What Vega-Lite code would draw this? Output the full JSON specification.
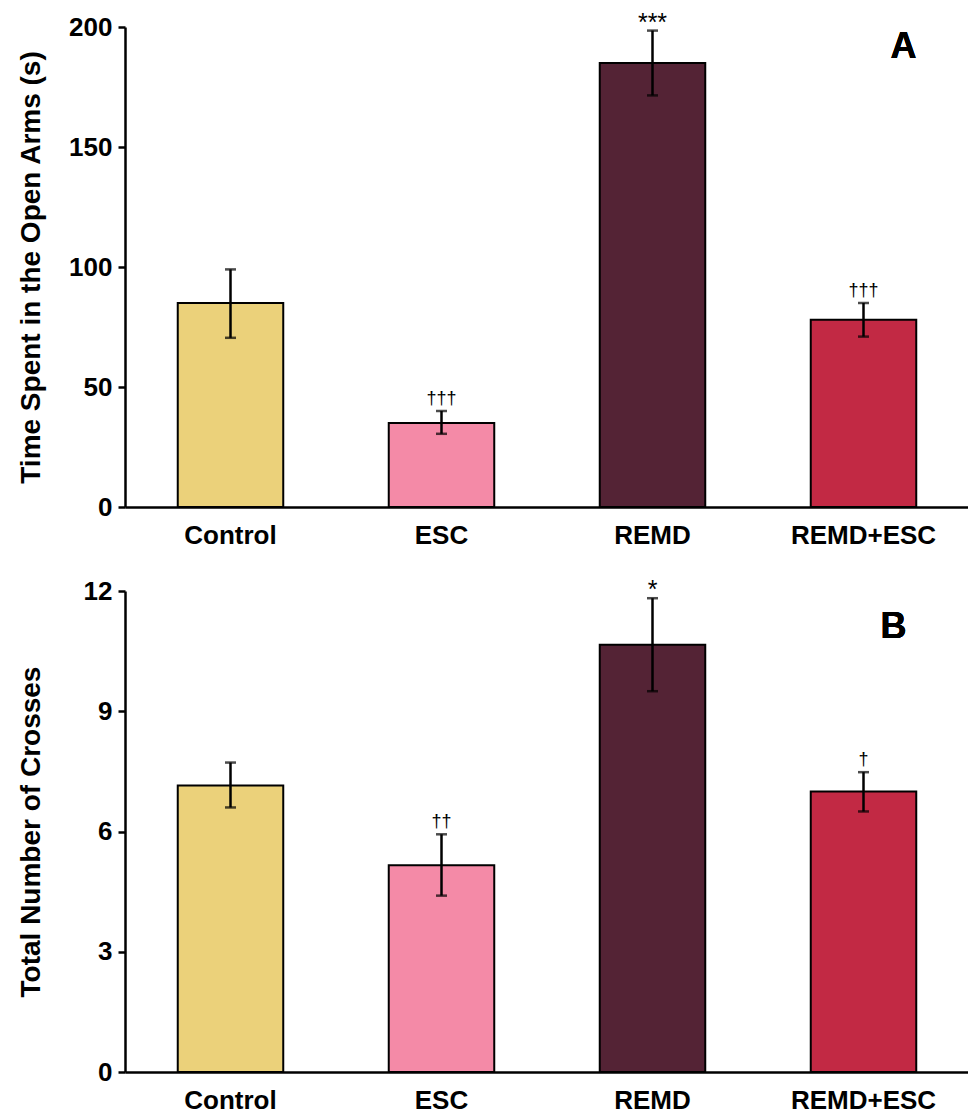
{
  "$schema": "https://vega.github.io/schema/vega-lite/v6.json",
  "background": "white",
  "padding": {"left": 16, "top": 10, "right": 0, "bottom": 0},
  "spacing": 84,
  "bounds": "flush",
  "datasets": {
    "a": [
      {"group": "Control", "mean": 85, "lo": 70.5, "hi": 99, "sig": ""},
      {"group": "ESC", "mean": 35, "lo": 30.5, "hi": 40, "sig": "†††"},
      {"group": "REMD", "mean": 185, "lo": 171.5, "hi": 198.5, "sig": "***"},
      {"group": "REMD+ESC", "mean": 78, "lo": 71, "hi": 85, "sig": "†††"}
    ],
    "b": [
      {"group": "Control", "mean": 7.15, "lo": 6.6, "hi": 7.72, "sig": ""},
      {"group": "ESC", "mean": 5.16, "lo": 4.4, "hi": 5.93, "sig": "††"},
      {"group": "REMD", "mean": 10.66, "lo": 9.5, "hi": 11.82, "sig": "*"},
      {"group": "REMD+ESC", "mean": 7.0, "lo": 6.5, "hi": 7.48, "sig": "†"}
    ]
  },
  "config": {
    "view": {"stroke": null},
    "font": "Liberation Sans",
    "axis": {
      "domainColor": "black",
      "domainWidth": 2.5,
      "tickColor": "black",
      "tickWidth": 2.5,
      "labelFont": "Liberation Sans",
      "labelFontWeight": "bold",
      "labelColor": "black",
      "labelFontSize": 26,
      "titleFont": "Liberation Sans",
      "titleFontWeight": "bold",
      "titleColor": "black",
      "titleFontSize": 28,
      "grid": false
    }
  },
  "vconcat": [
    {
      "width": 844,
      "height": 480,
      "data": {"name": "a"},
      "encoding": {
        "x": {
          "field": "group", "type": "nominal", "sort": null,
          "scale": {"paddingInner": 0.5, "paddingOuter": 0.25},
          "axis": {"title": null, "labelAngle": 0, "ticks": false, "labelPadding": 15}
        }
      },
      "layer": [
        {
          "mark": {"type": "bar", "stroke": "black", "strokeWidth": 2},
          "encoding": {
            "y": {
              "field": "mean", "type": "quantitative",
              "scale": {"domain": [0, 200], "nice": false},
              "axis": {"title": "Time Spent in the Open Arms (s)", "values": [0, 50, 100, 150, 200], "tickSize": 7, "labelPadding": 6, "titleX": -94, "titleAngle": 270, "titleAlign": "center", "titleBaseline": "middle"}
            },
            "color": {
              "field": "group", "type": "nominal", "legend": null,
              "scale": {"domain": ["Control", "ESC", "REMD", "REMD+ESC"], "range": ["#EBD17A", "#F48AA7", "#542335", "#C22944"]}
            }
          }
        },
        {
          "mark": {"type": "rule", "color": "black", "strokeWidth": 2.5},
          "encoding": {"y": {"field": "lo", "type": "quantitative"}, "y2": {"field": "hi"}}
        },
        {
          "mark": {"type": "tick", "color": "black", "thickness": 2.5, "size": 11},
          "encoding": {"y": {"field": "lo", "type": "quantitative"}}
        },
        {
          "mark": {"type": "tick", "color": "black", "thickness": 2.5, "size": 11},
          "encoding": {"y": {"field": "hi", "type": "quantitative"}}
        },
        {
          "transform": [{"filter": "indexof(datum.sig, '†') >= 0"}],
          "mark": {"type": "text", "baseline": "bottom", "dy": -3, "fontSize": 18, "font": "Liberation Sans", "color": "black"},
          "encoding": {"y": {"field": "hi", "type": "quantitative"}, "text": {"field": "sig"}}
        },
        {
          "transform": [{"filter": "indexof(datum.sig, '*') >= 0"}],
          "mark": {"type": "text", "baseline": "alphabetic", "dy": 0, "fontSize": 25, "font": "Liberation Sans", "color": "black"},
          "encoding": {"y": {"field": "hi", "type": "quantitative"}, "text": {"field": "sig"}}
        },
        {
          "mark": {"type": "text", "baseline": "middle", "align": "center", "dx": 40, "fontSize": 36, "fontWeight": "bold", "font": "Liberation Sans", "color": "black"},
          "encoding": {"x": {"datum": "REMD+ESC"}, "y": {"datum": 191.5}, "text": {"value": "A"}}
        }
      ]
    },
    {
      "width": 844,
      "height": 481,
      "data": {"name": "b"},
      "encoding": {
        "x": {
          "field": "group", "type": "nominal", "sort": null,
          "scale": {"paddingInner": 0.5, "paddingOuter": 0.25},
          "axis": {"title": null, "labelAngle": 0, "ticks": false, "labelPadding": 15}
        }
      },
      "layer": [
        {
          "mark": {"type": "bar", "stroke": "black", "strokeWidth": 2},
          "encoding": {
            "y": {
              "field": "mean", "type": "quantitative",
              "scale": {"domain": [0, 12], "nice": false},
              "axis": {"title": "Total Number of Crosses", "values": [0, 3, 6, 9, 12], "tickSize": 7, "labelPadding": 6, "titleX": -94, "titleAngle": 270, "titleAlign": "center", "titleBaseline": "middle"}
            },
            "color": {
              "field": "group", "type": "nominal", "legend": null,
              "scale": {"domain": ["Control", "ESC", "REMD", "REMD+ESC"], "range": ["#EBD17A", "#F48AA7", "#542335", "#C22944"]}
            }
          }
        },
        {
          "mark": {"type": "rule", "color": "black", "strokeWidth": 2.5},
          "encoding": {"y": {"field": "lo", "type": "quantitative"}, "y2": {"field": "hi"}}
        },
        {
          "mark": {"type": "tick", "color": "black", "thickness": 2.5, "size": 11},
          "encoding": {"y": {"field": "lo", "type": "quantitative"}}
        },
        {
          "mark": {"type": "tick", "color": "black", "thickness": 2.5, "size": 11},
          "encoding": {"y": {"field": "hi", "type": "quantitative"}}
        },
        {
          "transform": [{"filter": "indexof(datum.sig, '†') >= 0"}],
          "mark": {"type": "text", "baseline": "bottom", "dy": -3, "fontSize": 18, "font": "Liberation Sans", "color": "black"},
          "encoding": {"y": {"field": "hi", "type": "quantitative"}, "text": {"field": "sig"}}
        },
        {
          "transform": [{"filter": "indexof(datum.sig, '*') >= 0"}],
          "mark": {"type": "text", "baseline": "alphabetic", "dy": 0, "fontSize": 25, "font": "Liberation Sans", "color": "black"},
          "encoding": {"y": {"field": "hi", "type": "quantitative"}, "text": {"field": "sig"}}
        },
        {
          "mark": {"type": "text", "baseline": "middle", "align": "center", "dx": 30, "fontSize": 36, "fontWeight": "bold", "font": "Liberation Sans", "color": "black"},
          "encoding": {"x": {"datum": "REMD+ESC"}, "y": {"datum": 11.1}, "text": {"value": "B"}}
        }
      ]
    }
  ]
}
